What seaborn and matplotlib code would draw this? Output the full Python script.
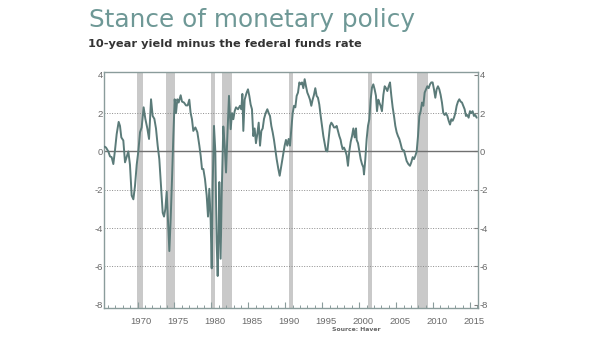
import matplotlib
matplotlib.use("Agg")
import matplotlib.pyplot as plt
import matplotlib.transforms as mtransforms
from matplotlib.ticker import MultipleLocator, FixedLocator
import seaborn as sns
import pandas as pd

# Decimal years and the 10-year Treasury yield minus the federal funds rate (pct. points)
years = [
    1965.55, 1965.74, 1966.05, 1966.28, 1966.50, 1966.73, 1966.95, 1967.18, 1967.45, 1967.63,
    1967.81, 1968.08, 1968.31, 1968.53, 1968.76, 1968.98, 1969.21, 1969.44, 1969.66, 1969.89,
    1970.11, 1970.34, 1970.56, 1970.83, 1971.06, 1971.33, 1971.56, 1971.83, 1972.05, 1972.28,
    1972.50, 1972.73, 1972.95, 1973.41, 1973.59, 1973.77, 1973.95, 1974.13, 1974.31, 1974.49,
    1974.67, 1974.85, 1975.03, 1975.21, 1975.39, 1975.57, 1975.84, 1976.02, 1976.29, 1976.56,
    1976.79, 1977.01, 1977.19, 1977.37, 1977.55, 1977.83, 1978.10, 1978.37, 1978.55, 1978.73,
    1978.91, 1979.13, 1979.36, 1979.54, 1979.72, 1979.90, 1980.04, 1980.17, 1980.35, 1980.53,
    1980.71, 1980.85, 1980.98, 1981.07, 1981.25, 1981.39, 1981.61, 1981.80, 1981.98, 1982.16,
    1982.38, 1982.61, 1982.79, 1982.97, 1983.15, 1983.33, 1983.60, 1983.87, 1984.05, 1984.19,
    1984.32, 1984.50, 1984.77, 1984.95, 1985.13, 1985.31, 1985.49, 1985.67, 1985.85, 1986.03,
    1986.21, 1986.40, 1986.58, 1986.76, 1986.94, 1987.12, 1987.34, 1987.57, 1987.75, 1987.93,
    1988.11, 1988.29, 1988.47, 1988.65, 1988.83, 1989.06, 1989.24, 1989.46, 1989.64, 1989.91,
    1990.09, 1990.27, 1990.45, 1990.64, 1990.82, 1991.00, 1991.18, 1991.36, 1991.54, 1991.72,
    1991.90, 1992.08, 1992.26, 1992.44, 1992.62, 1992.80, 1992.98, 1993.16, 1993.34, 1993.52,
    1993.70, 1993.88, 1994.06, 1994.24, 1994.42, 1994.60, 1994.79, 1994.97, 1995.15, 1995.33,
    1995.51, 1995.69, 1995.87, 1996.05, 1996.23, 1996.41, 1996.59, 1996.77, 1996.95, 1997.13,
    1997.31, 1997.49, 1997.58, 1997.76, 1997.94, 1998.12, 1998.30, 1998.48, 1998.66, 1998.85,
    1999.03, 1999.21, 1999.39, 1999.57, 1999.66, 1999.84, 2000.02, 2000.20, 2000.38, 2000.56,
    2000.65, 2000.83, 2001.01, 2001.19, 2001.37, 2001.55, 2001.73, 2001.91, 2002.09, 2002.27,
    2002.41, 2002.59, 2002.72, 2002.90, 2003.08, 2003.27, 2003.45, 2003.63, 2003.81, 2003.99,
    2004.17, 2004.35, 2004.53, 2004.71, 2004.89, 2005.07, 2005.25, 2005.43, 2005.61, 2005.79,
    2005.97, 2006.06, 2006.24, 2006.42, 2006.65, 2006.87, 2007.05, 2007.24, 2007.42, 2007.60,
    2007.78, 2007.96, 2008.14, 2008.32, 2008.50, 2008.68, 2008.86, 2009.04, 2009.22, 2009.40,
    2009.58, 2009.76, 2009.94, 2010.12, 2010.30, 2010.48, 2010.66, 2010.84, 2011.02, 2011.20,
    2011.38, 2011.57, 2011.75, 2011.93, 2012.11, 2012.29, 2012.47, 2012.65, 2012.83, 2013.01,
    2013.19, 2013.37, 2013.55, 2013.73, 2013.91, 2014.09, 2014.27, 2014.45, 2014.63, 2014.81,
    2014.99, 2015.17, 2015.35, 2015.53, 2015.71, 2015.90,
]
spread = [
    0.25, 0.20, 0.00, -0.26, -0.30, -0.66, 0.05, 0.90, 1.54, 1.33,
    0.73, 0.57, -0.57, -0.30, 0.00, -0.70, -2.30, -2.50, -1.80, -0.70,
    0.00, 1.00, 1.25, 2.30, 1.70, 1.20, 0.65, 2.72, 1.85, 1.70,
    1.20, 0.30, -0.40, -3.20, -3.40, -3.00, -2.10, -3.70, -5.20, -3.50,
    -1.44, 0.80, 2.72, 2.00, 2.72, 2.55, 2.93, 2.60, 2.55, 2.40,
    2.40, 2.70, 2.00, 1.68, 1.07, 1.25, 1.00, 0.30, -0.23, -0.92,
    -0.92, -1.44, -2.30, -3.40, -1.95, -3.60, -6.10, -1.80, 1.33, 0.00,
    -4.74, -6.50, -4.10, -1.60, -5.60, -2.30, 1.30, 0.30, -1.10, 0.80,
    2.90, 1.16, 2.00, 1.68, 2.10, 2.30, 2.20, 2.38, 2.20, 3.00,
    1.07, 2.70, 3.07, 3.24, 2.90, 2.45, 2.20, 0.80, 1.20, 0.43,
    0.90, 1.50, 0.30, 1.07, 1.20, 1.70, 2.00, 2.20, 2.00, 1.85,
    1.33, 1.00, 0.60, 0.12, -0.40, -0.92, -1.27, -0.75, -0.30, 0.30,
    0.60, 0.30, 0.65, 0.30, 1.20, 2.00, 2.38, 2.30, 2.90, 3.07,
    3.60, 3.50, 3.60, 3.30, 3.77, 3.40, 3.07, 2.90, 2.70, 2.38,
    2.70, 2.95, 3.30, 2.90, 2.80, 2.45, 1.85, 1.33, 0.80, 0.43,
    0.03, 0.00, 0.65, 1.33, 1.50, 1.40, 1.25, 1.25, 1.33, 1.07,
    0.80, 0.60, 0.40, 0.12, 0.20, 0.05, -0.20, -0.75, 0.00, 0.50,
    0.80, 1.20, 0.73, 1.20, 0.60, 0.43, 0.00, -0.40, -0.66, -0.83,
    -1.20, -0.40, 0.65, 1.33, 1.68, 2.70, 3.33, 3.50, 3.24, 2.90,
    2.10, 2.70, 2.55, 2.38, 2.10, 2.95, 3.40, 3.30, 3.15, 3.40,
    3.60, 2.90, 2.30, 1.85, 1.33, 1.00, 0.80, 0.65, 0.40, 0.12,
    0.05, 0.05, -0.23, -0.50, -0.66, -0.75, -0.57, -0.30, -0.40, -0.23,
    0.00, 0.80, 1.85, 2.10, 2.55, 2.38, 3.07, 3.24, 3.40, 3.30,
    3.50, 3.60, 3.60, 3.24, 2.80, 3.24, 3.40, 3.24, 2.95, 2.55,
    2.00, 1.90, 2.00, 1.85, 1.60, 1.40, 1.68, 1.60, 1.76, 2.00,
    2.38, 2.60, 2.72, 2.60, 2.55, 2.38, 2.20, 1.85, 1.90, 1.76,
    2.10, 2.00, 2.10, 1.85, 1.90, 1.76,
]

# Recession periods (start, end) in decimal years
recession_start = [1969.90, 1973.80, 1979.95, 1981.50, 1990.50, 2001.15, 2007.80]
recession_end = [1970.80, 1975.10, 1980.45, 1982.80, 1991.05, 2001.80, 2009.30]

tick_years = [1970, 1975, 1980, 1985, 1990, 1995, 2000, 2005, 2010, 2015]
y_ticks = [-8, -6, -4, -2, 0, 2, 4]
grid_levels = [-6, -4, -2, 2]

df = pd.DataFrame({"year": years, "spread": spread})

sns.set_style("white")
plt.rcParams["font.family"] = ["Liberation Sans", "DejaVu Sans"]

fig = plt.figure(figsize=(6.16, 3.46), dpi=100)
ax = fig.add_axes([0.1696, 0.111, 0.6064, 0.6818])

line_color = "#5b7b79"
frame_color = "#8a9c9b"
label_color = "#6a6a6a"

for s, e in zip(recession_start, recession_end):
    ax.axvspan(s, e, color="#c9c9c9", lw=0, zorder=0)

for yv in grid_levels:
    ax.axhline(yv, color="#8c8c8c", lw=0.7, ls=(0, (1.0, 1.6)), zorder=1)
ax.axhline(0, color="#707070", lw=1.0, zorder=1)

sns.lineplot(data=df, x="year", y="spread", ax=ax, color=line_color,
             lw=1.4, zorder=3, estimator=None, sort=False)

ax.set_xlim(1965.53, 2016.08)
ax.set_ylim(-8.15, 4.16)
ax.set_xlabel("")
ax.set_ylabel("")

for sp in ax.spines.values():
    sp.set_color(frame_color)
    sp.set_linewidth(1.0)
    sp.set_visible(True)

# x axis: labels centred on each year, year boundaries marked with ticks
ax.xaxis.set_major_locator(FixedLocator(tick_years))
ax.xaxis.set_minor_locator(MultipleLocator(1))
ax.set_xticklabels([str(y) for y in tick_years])
ax.tick_params(axis="x", which="major", direction="in", length=4, width=0.8,
               color=frame_color, labelsize=6.8, labelcolor=label_color, pad=6.5,
               bottom=True, top=False)
ax.tick_params(axis="x", which="minor", direction="in", length=2.2, width=0.7,
               color=frame_color, bottom=True, top=False)
shift = mtransforms.ScaledTranslation(3.7 / 100, 0, fig.dpi_scale_trans)
for lab in ax.get_xticklabels():
    lab.set_transform(lab.get_transform() + shift)

# y axis: labels on both sides, short inward ticks on the right
ax.set_yticks(y_ticks)
ax.set_yticklabels([str(v) for v in y_ticks])
ax.tick_params(axis="y", which="major", direction="in", length=3.0, width=0.8,
               color="#808080", labelsize=6.8, labelcolor=label_color, pad=1.2,
               left=False, right=True, labelleft=True, labelright=True)

fig.text(0.1445, 0.923, "Stance of monetary policy", fontsize=17.8,
         color="#6e9896", ha="left", va="baseline", family="DejaVu Sans")
fig.text(0.1430, 0.865, "10-year yield minus the federal funds rate", fontsize=8.2,
         fontweight="bold", color="#333333", ha="left", va="baseline",
         family="DejaVu Sans")
fig.text(0.5787, 0.049, "Source: Haver", fontsize=4.4, fontweight="bold",
         color="#666666", ha="center", va="center", family="DejaVu Sans")

fig.savefig("out.png", dpi=100, facecolor="white")
